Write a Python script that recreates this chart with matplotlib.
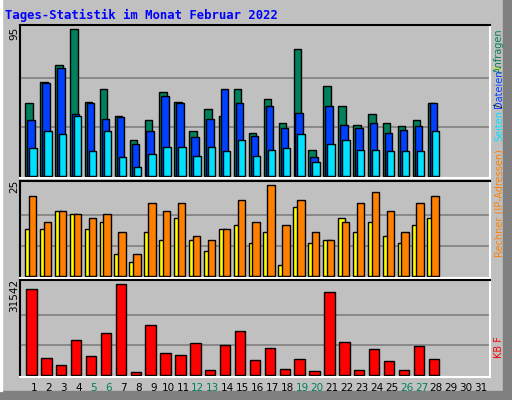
import matplotlib
matplotlib.use("Agg")
import matplotlib.pyplot as plt
from matplotlib.patches import Rectangle
import numpy as np

days = list(range(1, 32))
hits = [47, 61, 72, 95, 48, 56, 39, 23, 36, 54, 48, 29, 43, 39, 56, 28, 50, 34, 82, 17, 58, 45, 33, 40, 34, 32, 36, 47]
files = [36, 60, 70, 40, 47, 37, 38, 21, 29, 52, 47, 25, 37, 56, 47, 26, 45, 31, 41, 12, 45, 33, 31, 34, 28, 30, 32, 47]
pages = [18, 29, 27, 39, 16, 29, 12, 6, 14, 19, 19, 13, 19, 16, 23, 13, 17, 18, 27, 9, 21, 23, 17, 17, 16, 16, 16, 29]
visits = [13, 13, 18, 17, 13, 15, 6, 4, 12, 10, 16, 10, 7, 13, 14, 9, 12, 3, 19, 9, 10, 16, 12, 15, 11, 9, 14, 16]
sites = [22, 15, 18, 17, 16, 17, 12, 6, 20, 18, 20, 11, 10, 13, 21, 15, 25, 14, 21, 12, 10, 15, 20, 23, 18, 12, 20, 22]
kbytes = [29810, 5890, 3470, 12130, 6590, 14560, 31542, 1040, 17330, 7630, 6930, 11090, 1730, 10400,
          15250, 5200, 9360, 2080, 5550, 1390, 28770, 11440, 1730, 9010, 4850, 1730, 10050, 5550]
weekend = [5, 6, 12, 13, 19, 20, 26, 27]
title = "Tages-Statistik im Monat Februar 2022"

W, H = 512, 400
BG = "#c0c0c0"
GREEN, BLUE, CYAN = "#00805c", "#0040ff", "#00e0ff"
YELLOW, ORANGE, RED = "#ffff00", "#ff8000", "#ff0000"

fig = plt.figure(figsize=(W / 100, H / 100), dpi=100)
fig.patch.set_facecolor(BG)
fig.add_artist(Rectangle((503 / W, 0), 9 / W, 1, transform=fig.transFigure, color="#808080", zorder=0))
fig.add_artist(Rectangle((0, 0), 1, 9 / H, transform=fig.transFigure, color="#808080", zorder=0))
fig.add_artist(Rectangle((0, 9 / H), 2 / W, 1, transform=fig.transFigure, color="white", zorder=0))

def px_axes(x0, y0, x1, y1):
    return fig.add_axes([x0 / W, 1 - y1 / H, (x1 - x0) / W, (y1 - y0) / H])

pxd = 14.9
xl = ((20 - 34) / pxd + 1, (490 - 34) / pxd + 1)

def style(ax, ymin, ymax, top):
    ax.set_facecolor(BG)
    ax.set_xlim(*xl)
    ax.set_ylim(ymin, ymax)
    ax.set_xticks([])
    ax.set_yticks([])
    for g in (top / 3, 2 * top / 3):
        ax.axhline(g, color="#808080", lw=1.2, zorder=0)
    for s in ("top", "left"):
        ax.spines[s].set_color("black"); ax.spines[s].set_linewidth(1.5)
    for s in ("bottom", "right"):
        ax.spines[s].set_color("white"); ax.spines[s].set_linewidth(1.5)

d = np.arange(1, len(hits) + 1)
ax1 = px_axes(20, 25, 490, 178)
style(ax1, -1.3, 97.6, 95)
kw = dict(align="edge", width=0.5, edgecolor="black", linewidth=1.0)
ax1.bar(d - 0.58, hits, color=GREEN, **kw)
ax1.bar(d - 0.45, files, color=BLUE, **kw)
ax1.bar(d - 0.32, pages, color=CYAN, **kw)

ax2 = px_axes(20, 181, 490, 278)
style(ax2, -0.47, 26.1, 25)
ax2.bar(d - 0.6, visits, color=YELLOW, **kw)
ax2.bar(d - 0.34, sites, color=ORANGE, **kw)

ax3 = px_axes(20, 280, 490, 377)
style(ax3, -590, 33033, 31542)
ax3.bar(d - 0.52, kbytes, color=RED, align="edge", width=0.7, edgecolor="black", linewidth=1.0)

fig.text(5 / W, 1 - 15 / H, title, color="#0000ff", fontsize=8.8, fontweight="bold",
         family="DejaVu Sans Mono", va="center", ha="left")

for y, t in ((27, "95"), (180, "25"), (279, "31542")):
    fig.text(14 / W, 1 - y / H, t, rotation=90, fontsize=7.5, va="top", ha="center", color="black")

for i in days:
    x = (34 + (i - 1) * pxd) / W
    fig.text(x, 1 - 388 / H, str(i), fontsize=7.5, ha="center", va="center",
             color=GREEN if i in weekend else "black")

def rtext(y, t, c, va="top"):
    fig.text(499 / W, 1 - y / H, t, rotation=90, fontsize=7, va=va, ha="center", color=c)

rtext(257, "Rechner (IP-Adressen)", ORANGE, va="bottom")
rtext(28, "Anfragen", GREEN)
rtext(66, "/", YELLOW)
rtext(70, "Dateien", BLUE)
rtext(104, "/", "black")
rtext(110, "Seiten", CYAN)
rtext(358, "KB F", RED, va="bottom")

fig.savefig("out.png", dpi=100, facecolor=BG)
